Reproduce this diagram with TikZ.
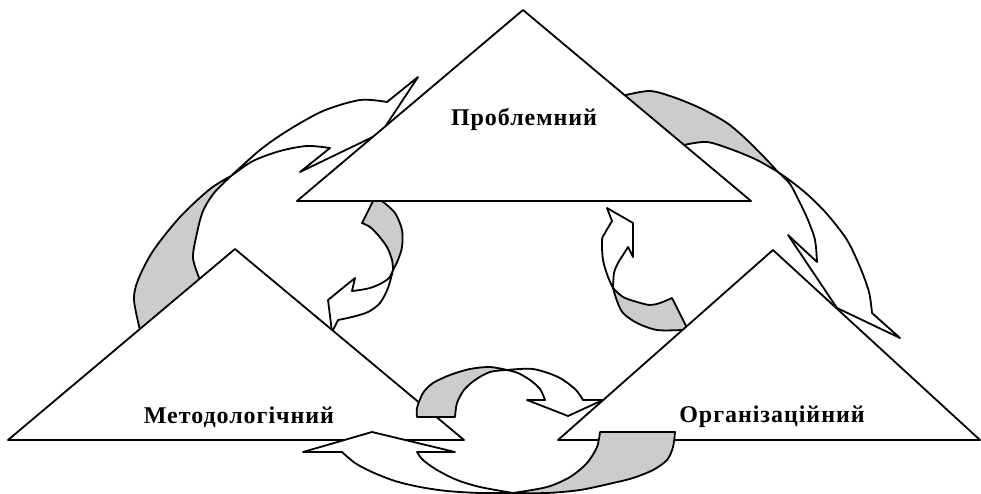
\documentclass[tikz,border=0pt]{standalone}
\usepackage{fontspec}
\setmainfont{Liberation Serif}
\begin{document}
\begin{tikzpicture}[x=1pt, y=-1pt, line width=1.8pt, line cap=round, line join=round,
    front/.style={fill=white}, back/.style={fill=black!20},
    lbl/.style={font=\bfseries\fontsize{24}{28}\selectfont\addfontfeature{LetterSpace=4}}]
  \useasboundingbox (0,0) rectangle (981,494);
  % big arrow, left triangle up to the top one
  \filldraw[back] plot[smooth] coordinates {(140,330) (134,300) (138,280) (153,251) (180,217) (210,189) (231,176)}
    -- plot[smooth] coordinates {(231,176) (214,193) (203,211) (197,233) (193,258) (200,280)}
    -- (205,287) -- (143,337) -- cycle;
  \filldraw[front] plot[smooth] coordinates {(231,176) (260,150) (287,131) (323,111) (360,100) (387,102)}
    -- (418,77) -- (381,133) -- (300,172) -- (330,148)
    -- plot[smooth] coordinates {(330,148) (307,146) (280,151) (253,161) (231,176)} -- cycle;
  % big arrow, top triangle down to the right one
  \filldraw[back] (615,100) -- plot[smooth] coordinates {(626,95) (650,91) (673,97) (700,108) (727,123) (747,140) (765,158) (778,172)}
    -- plot[smooth] coordinates {(778,172) (757,160) (733,150) (707,142) (684,145)}
    -- (660,140) -- cycle;
  \filldraw[front] plot[smooth] coordinates {(778,172) (792,182) (808,195) (827,214) (847,240) (860,267) (869,292) (872,313)}
    -- (900,338) -- (837,308) -- (788,235) -- (817,262)
    -- plot[smooth] coordinates {(817,262) (815,240) (808,220) (800,203) (790,184) (778,172)} -- cycle;
  % small arrow, top triangle down to the left one
  \filldraw[back] (362,223) -- (373,201) -- (374,195) -- (384,195)
    -- plot[smooth] coordinates {(382,201) (395,213) (402,230) (402,247) (398,260) (393,270)}
    -- plot[smooth] coordinates {(393,270) (392,260) (387,247) (378,235) (370,227) (362,223)} -- cycle;
  \filldraw[front] plot[smooth] coordinates {(393,270) (389,278) (380,284) (370,288) (360,290) (352,291)}
    -- (355,278) -- (328,300) -- (332,332) -- (338,320)
    -- plot[smooth] coordinates {(338,320) (352,317) (368,312) (380,303) (388,288) (393,270)} -- cycle;
  % small arrow, right triangle up to the top one
  \filldraw[back] (672,298) -- (690,334)
    -- plot[smooth] coordinates {(682,330) (657,330) (637,323) (623,313) (617,301) (613,288)}
    -- plot[smooth] coordinates {(613,288) (623,297) (637,302) (650,305) (660,303) (672,298)} -- cycle;
  \filldraw[front] plot[smooth] coordinates {(613,288) (608,277) (603,260) (602,240) (605,233) (612,221)}
    -- (607,208) -- (633,223) -- (633,257) -- (628,247)
    -- plot[smooth] coordinates {(628,247) (623,255) (618,263) (614,273) (613,288)} -- cycle;
  % the three triangles
  \filldraw[front] (297,201) -- (523,10) -- (751,201) -- cycle;
  \filldraw[front] (8,440) -- (235,249) -- (464,440) -- cycle;
  \filldraw[front] (558,440) -- (773,250) -- (980,440) -- cycle;
  \node[lbl] (probl) at (524,119) {Проблемний};
  \node[lbl] (metod) at (239,417) {Методологічний};
  \node[lbl] (organ) at (772,417) {Організаційний};
  % bottom arrows, laid over the triangles
  \filldraw[back] plot[smooth] coordinates {(417,417) (417,408) (423,393) (433,383) (450,375) (470,369) (490,367) (507,370)}
    -- plot[smooth] coordinates {(507,370) (490,372) (475,380) (464,390) (457,403) (455,417)} -- cycle;
  \filldraw[front] plot[smooth] coordinates {(507,370) (533,369) (558,377) (575,389) (583,400)}
    -- (603,400) -- (568,416) -- (527,400) -- (545,400)
    -- plot[smooth] coordinates {(545,400) (540,389) (530,380) (518,373) (507,370)} -- cycle;
  \filldraw[back] (600,432) -- (675,432)
    -- plot[smooth] coordinates {(675,432) (673,447) (667,460) (653,470) (633,478) (613,483) (580,490) (547,493) (513,493)}
    -- plot[smooth] coordinates {(513,493) (547,487) (570,477) (587,463) (597,447) (600,432)} -- cycle;
  \filldraw[front] plot[smooth] coordinates {(513,493) (480,493) (447,491) (420,487) (395,481) (372,472) (355,463) (342,452)}
    -- (303,452) -- (372,432) -- (455,452) -- (417,452)
    -- plot[smooth] coordinates {(417,452) (423,460) (437,470) (457,480) (480,487) (513,493)} -- cycle;
\end{tikzpicture}
\end{document}
